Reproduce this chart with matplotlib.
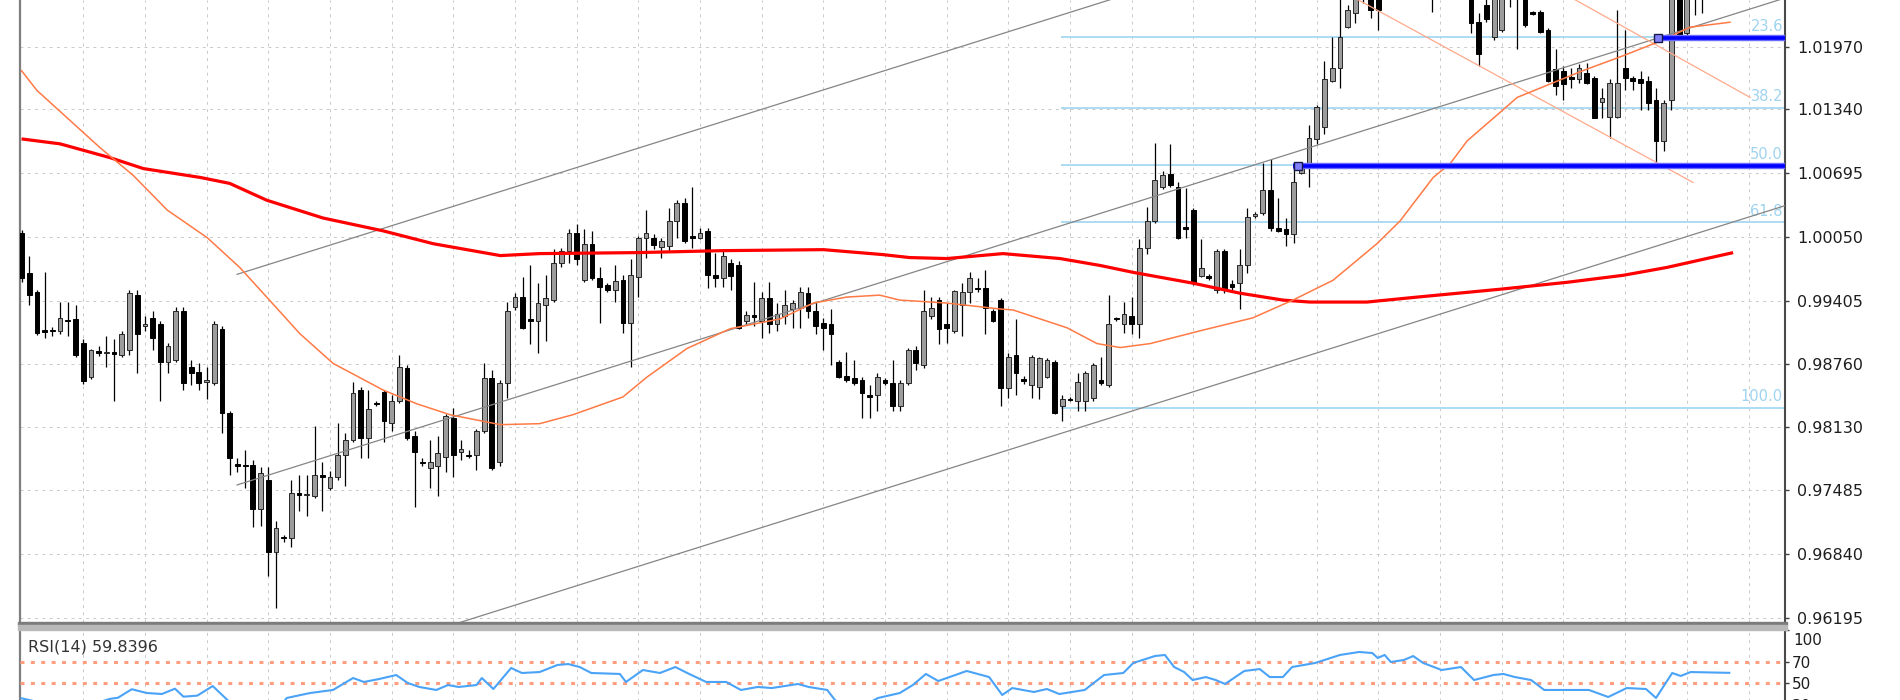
import numpy as np
import matplotlib
matplotlib.use('Agg')
import matplotlib.pyplot as plt
from matplotlib.patches import Rectangle

plt.rcParams['font.family'] = ['DejaVu Sans']

# ---------------- data ----------------
open_ = [1.0009,0.9968,0.9949,0.9911,0.9911,0.9910,0.9921,0.9922,0.9898,0.9863,
0.9889,0.9887,0.9888,0.9885,0.9890,0.9946,0.9915,0.9923,0.9917,0.9878,
0.9880,0.9930,0.9873,0.9868,0.9858,0.9857,0.9912,0.9827,0.9775,0.9774,
0.9774,0.9730,0.9759,0.9686,0.9701,0.9700,0.9746,0.9744,0.9743,0.9764,
0.9751,0.9762,0.9784,0.9799,0.9850,0.9802,0.9837,0.9848,0.9817,0.9839,
0.9872,0.9804,0.9777,0.9771,0.9773,0.9782,0.9822,0.9787,0.9784,0.9784,
0.9809,0.9862,0.9777,0.9857,0.9934,0.9944,0.9922,0.9920,0.9936,0.9941,
0.9978,0.9991,1.0009,0.9961,0.9998,0.9963,0.9956,0.9951,0.9961,0.9918,
0.9964,1.0004,1.0004,0.9995,0.9996,1.0021,1.0039,1.0006,1.0004,1.0011,
0.9966,0.9963,0.9979,0.9976,0.9920,0.9926,0.9920,0.9943,0.9917,0.9925,
0.9932,0.9933,0.9948,0.9930,0.9918,0.9917,0.9878,0.9864,0.9862,0.9860,
0.9845,0.9845,0.9860,0.9857,0.9834,0.9857,0.9890,0.9875,0.9925,0.9941,
0.9917,0.9910,0.9936,0.9949,0.9953,0.9953,0.9930,0.9941,0.9852,0.9885,
0.9861,0.9855,0.9853,0.9863,0.9878,0.9834,0.9841,0.9839,0.9839,0.9842,
0.9860,0.9855,0.9923,0.9917,0.9925,0.9917,0.9994,1.0021,1.0055,1.0069,
1.0055,1.0015,1.0032,0.9965,0.9965,0.9951,0.9991,0.9957,0.9958,0.9976,
1.0026,1.0029,1.0052,1.0014,1.0013,1.0008,1.0070,1.0077,1.0104,1.0116,
1.0163,1.0176,1.0217,1.0231,1.0249,1.0259,1.0254,1.0264,1.0274,1.0269,
1.0279,1.0274,1.0264,1.0259,1.0249,1.0269,1.0259,1.0269,1.0254,1.0222,
1.0239,1.0207,1.0214,1.0249,1.0254,1.0254,1.0232,1.0232,1.0214,1.0175,
1.0173,1.0167,1.0165,1.0171,1.0166,1.0141,1.0126,1.0126,1.0176,1.0166,
1.0165,1.0163,1.0143,1.0102,1.0143,1.0249,1.0211,1.0249,1.0252]

high = [1.0012,0.9986,0.9951,0.9969,0.9914,0.9939,0.9939,0.9936,0.9902,0.9892,
0.9895,0.9905,0.9902,0.9910,0.9951,0.9951,0.9925,0.9930,0.9920,0.9898,
0.9934,0.9934,0.9880,0.9877,0.9873,0.9920,0.9915,0.9829,0.9781,0.9789,
0.9779,0.9772,0.9772,0.9718,0.9703,0.9759,0.9764,0.9764,0.9814,0.9777,
0.9768,0.9817,0.9807,0.9858,0.9853,0.9850,0.9839,0.9850,0.9845,0.9885,
0.9875,0.9809,0.9781,0.9799,0.9804,0.9826,0.9832,0.9799,0.9789,0.9811,
0.9877,0.9870,0.9860,0.9939,0.9948,0.9964,0.9976,0.9958,0.9966,0.9993,
0.9994,1.0013,1.0018,1.0013,1.0011,0.9974,0.9958,0.9976,0.9966,0.9983,
1.0006,1.0032,1.0008,1.0004,1.0034,1.0042,1.0044,1.0055,1.0014,1.0014,
0.9989,0.9991,0.9983,0.9981,0.9930,0.9959,0.9949,0.9959,0.9938,0.9951,
0.9941,0.9954,0.9954,0.9939,0.9923,0.9932,0.9880,0.9888,0.9880,0.9863,
0.9855,0.9867,0.9862,0.9880,0.9860,0.9893,0.9895,0.9951,0.9944,0.9944,
0.9938,0.9951,0.9958,0.9969,0.9963,0.9971,0.9932,0.9943,0.9887,0.9922,
0.9864,0.9885,0.9883,0.9882,0.9880,0.9845,0.9843,0.9867,0.9869,0.9877,
0.9883,0.9946,0.9924,0.9939,0.9944,1.0003,1.0035,1.0100,1.0072,1.0099,
1.0060,1.0054,1.0034,1.0003,0.9967,0.9993,0.9993,0.9961,0.9993,1.0034,
1.0030,1.0080,1.0084,1.0044,1.0024,1.0080,1.0080,1.0118,1.0138,1.0183,
1.0207,1.0249,1.0239,1.0254,1.0279,1.0264,1.0264,1.0284,1.0289,1.0284,
1.0294,1.0289,1.0279,1.0274,1.0274,1.0284,1.0279,1.0279,1.0264,1.0231,
1.0249,1.0259,1.0259,1.0269,1.0274,1.0264,1.0233,1.0234,1.0216,1.0195,
1.0178,1.0176,1.0180,1.0181,1.0168,1.0155,1.0165,1.0234,1.0214,1.0168,
1.0173,1.0168,1.0156,1.0143,1.0254,1.0254,1.0254,1.0264,1.0264]

low = [0.9959,0.9936,0.9906,0.9903,0.9905,0.9907,0.9905,0.9883,0.9856,0.9861,
0.9884,0.9873,0.9839,0.9883,0.9885,0.9867,0.9910,0.9890,0.9839,0.9867,
0.9878,0.9850,0.9855,0.9850,0.9841,0.9855,0.9807,0.9764,0.9767,0.9751,
0.9711,0.9713,0.9662,0.9630,0.9696,0.9691,0.9728,0.9723,0.9741,0.9728,
0.9749,0.9759,0.9753,0.9797,0.9781,0.9781,0.9834,0.9797,0.9809,0.9837,
0.9799,0.9732,0.9773,0.9751,0.9743,0.9767,0.9762,0.9779,0.9781,0.9769,
0.9807,0.9769,0.9773,0.9842,0.9931,0.9912,0.9897,0.9887,0.9900,0.9939,
0.9974,0.9978,0.9976,0.9959,0.9961,0.9918,0.9949,0.9939,0.9908,0.9873,
0.9944,0.9984,0.9993,0.9984,0.9991,1.0004,0.9999,0.9994,1.0003,0.9953,
0.9954,0.9954,0.9951,0.9912,0.9917,0.9915,0.9903,0.9908,0.9910,0.9917,
0.9913,0.9913,0.9923,0.9907,0.9890,0.9875,0.9862,0.9858,0.9855,0.9822,
0.9822,0.9829,0.9855,0.9829,0.9829,0.9855,0.9870,0.9872,0.9922,0.9897,
0.9898,0.9908,0.9905,0.9938,0.9949,0.9907,0.9919,0.9834,0.9842,0.9845,
0.9856,0.9842,0.9841,0.9862,0.9826,0.9819,0.9839,0.9829,0.9829,0.9839,
0.9855,0.9853,0.9920,0.9908,0.9907,0.9903,0.9988,1.0019,1.0053,1.0055,
1.0003,1.0004,0.9956,0.9964,0.9961,0.9948,0.9948,0.9951,0.9932,0.9968,
1.0024,1.0027,1.0011,1.0010,0.9996,0.9999,1.0069,1.0055,1.0099,1.0109,
1.0162,1.0156,1.0216,1.0221,1.0241,1.0226,1.0214,1.0249,1.0256,1.0254,
1.0264,1.0259,1.0249,1.0232,1.0246,1.0252,1.0247,1.0249,1.0211,1.0178,
1.0222,1.0204,1.0212,1.0237,1.0195,1.0217,1.0229,1.0211,1.0162,1.0148,
1.0143,1.0155,1.0161,1.0160,1.0125,1.0125,1.0105,1.0125,1.0153,1.0153,
1.0133,1.0133,1.0079,1.0092,1.0133,1.0207,1.0209,1.0229,1.0231]

close = [0.9963,0.9946,0.9908,0.9909,0.9910,0.9923,0.9920,0.9885,0.9859,0.9890,
0.9887,0.9888,0.9886,0.9907,0.9948,0.9907,0.9917,0.9903,0.9878,0.9895,
0.9930,0.9857,0.9867,0.9857,0.9860,0.9917,0.9827,0.9781,0.9773,0.9773,
0.9730,0.9766,0.9686,0.9710,0.9700,0.9746,0.9744,0.9745,0.9764,0.9762,
0.9762,0.9784,0.9799,0.9847,0.9801,0.9831,0.9836,0.9819,0.9839,0.9873,
0.9801,0.9787,0.9776,0.9777,0.9786,0.9824,0.9784,0.9790,0.9783,0.9809,
0.9862,0.9771,0.9857,0.9930,0.9944,0.9913,0.9920,0.9938,0.9943,0.9979,
0.9991,1.0009,0.9983,0.9998,0.9963,0.9954,0.9951,0.9960,0.9918,0.9966,
1.0004,1.0009,0.9997,1.0001,1.0021,1.0039,1.0001,1.0004,1.0009,0.9966,
0.9963,0.9986,0.9965,0.9913,0.9926,0.9924,0.9943,0.9917,0.9927,0.9936,
0.9938,0.9949,0.9930,0.9915,0.9913,0.9907,0.9863,0.9860,0.9857,0.9847,
0.9843,0.9863,0.9857,0.9834,0.9857,0.9890,0.9877,0.9930,0.9933,0.9912,
0.9913,0.9950,0.9949,0.9963,0.9952,0.9933,0.9920,0.9852,0.9883,0.9867,
0.9859,0.9883,0.9882,0.9880,0.9827,0.9841,0.9840,0.9858,0.9867,0.9875,
0.9857,0.9917,0.9922,0.9927,0.9917,0.9994,1.0021,1.0062,1.0067,1.0057,
1.0004,1.0013,0.9958,0.9973,0.9963,0.9991,0.9951,0.9954,0.9976,1.0025,
1.0028,1.0052,1.0014,1.0011,1.0008,1.0060,1.0076,1.0105,1.0136,1.0165,
1.0176,1.0207,1.0234,1.0249,1.0269,1.0234,1.0234,1.0274,1.0269,1.0279,
1.0274,1.0264,1.0259,1.0249,1.0269,1.0259,1.0269,1.0254,1.0221,1.0190,
1.0225,1.0249,1.0249,1.0259,1.0264,1.0219,1.0230,1.0212,1.0163,1.0158,
1.0160,1.0165,1.0176,1.0161,1.0125,1.0145,1.0161,1.0161,1.0166,1.0163,
1.0161,1.0140,1.0102,1.0140,1.0247,1.0209,1.0249,1.0256,1.0259]

# moving averages (bar position, value)
ma_slow_pos = [0,5,11.5,15.8,23.2,27,31.8,39.1,46.9,53.4,62.1,67.2,79.8,91,104,111.7,115.2,
               120,127.3,134.7,139.9,144.2,152,158,163.6,167.1,174.5,181,191.8,200.5,207.7,213.4,222]
ma_slow_val = [1.0104,1.0099,1.0085,1.0074,1.0065,1.0059,1.0042,1.0024,1.0011,0.9998,0.9986,0.9988,
               0.9989,0.9991,0.9992,0.9987,0.9984,0.9983,0.9988,0.9983,0.9976,0.9969,0.9958,0.9948,
               0.9941,0.9939,0.9939,0.9944,0.9952,0.9959,0.9966,0.9974,0.9989]

ma_fast_pos = [0,2,10.2,14.5,18.9,24.1,28.3,31.8,36.1,40.4,46.9,51.3,55.6,62.1,67.2,71.5,78,81.1,
               86.3,91.9,98.4,102.7,107,111.3,113.9,120,126.9,128.6,135.6,139.5,142.5,146.4,152.9,
               159.7,164.9,170.1,175.8,178.8,183.1,185.3,187.5,191.8,194,202.5,207.7,212.9,216.4,221.6]
ma_fast_val = [1.0173,1.0153,1.0095,1.0067,1.0032,1.0004,0.9974,0.9944,0.9907,0.9877,0.9850,0.9836,
               0.9825,0.9815,0.9816,0.9825,0.9843,0.9863,0.9892,0.9912,0.9922,0.9938,0.9944,0.9946,
               0.9941,0.9938,0.9932,0.9931,0.9913,0.9897,0.9893,0.9897,0.9910,0.9923,0.9941,0.9961,
               0.9998,1.0021,1.0065,1.0079,1.0102,1.0131,1.0146,1.0173,1.0188,1.0204,1.0217,1.0222]

# RSI(14)
rsi_pos = [0,3,6,9,11.5,12.5,14.3,16.2,18.2,19.9,
           21,22.8,24.8,26.7,28.5,30.5,32.5,33.5,34.4,37.4,
           40.4,43,44.4,46.4,48.6,50.1,51.6,53.8,55.3,56.7,
           59,59.7,61.2,63.5,64.9,67.2,69.5,70.9,72.4,73.9,
           77.6,78.4,80.6,82.8,84.8,86.6,88.8,91.4,93.3,95.5,
           97.3,100.7,102.1,104.5,105.5,107.5,109.5,111.1,113.9,115.6,
           117.3,118.9,122.6,125.5,127.2,128.5,131.3,133,134.6,137.9,
           140.4,142.9,144.2,147,148.3,149.5,150.8,151.9,153.6,154.9,
           156.1,158.6,160.6,161.9,163.6,164.8,167.8,171,173.5,175.2,
           175.9,176.8,177.6,179.3,180.5,181.8,184.2,186.7,188.4,190.9,
           192.2,193.7,195.8,197.5,203.3,205.8,208.2,210.7,212,214.1,
           215.2,216.5,221.5]
rsi_val = [36,31,32,30,35.5,36.5,44.5,41,40,45,
           37.5,38.5,47.5,34.4,26,22,20,28,36.3,40.9,
           43.8,55,51.3,54.1,57.8,50.3,46.6,43.8,48.4,46.6,
           48.4,55,44.7,64.4,59.7,60.6,67.2,68.1,65.3,59.7,
           58.8,51.3,62.5,59.7,65.3,58.8,51.3,51.3,43.8,46.6,
           45.6,49.4,46.6,43.8,34.4,25,30,36.3,40.9,48.4,
           58.8,52.2,61.6,55.9,39.1,45.6,41.9,44.7,40,43.8,
           57.8,59.7,69.1,75.6,76.6,65.3,60.6,53.1,55.9,53.1,
           49.4,61.6,63.4,55.9,55.9,65.3,69.1,76.6,79.4,78.4,
           73.8,76.6,70,71.9,75.6,69.1,62.5,65.3,53.1,57.8,
           58.8,55.9,53.1,43.8,43.8,37.2,45.6,44.7,36.3,59.7,
           56.9,60.6,59.84]
rsi_label = "RSI(14) 59.8396"
rsi_levels = [70, 50, 30]
rsi_ticks = [100, 70, 50, 30]

price_ticks = [1.01970, 1.01340, 1.00695, 1.00050, 0.99405,
               0.98760, 0.98130, 0.97485, 0.96840, 0.96195]

# drawn objects: channel (gray), descending channel (salmon), fibo, horizontal lines
channel_upper = [(27.95, 0.9967), (228.73, 1.04595)]
channel_mid = [(27.95, 0.9754), (228.73, 1.02465)]
channel_low = [(27.95, 0.9544), (228.73, 1.00365)]
down_low = [(170.0, 1.0259), (216.8, 1.0060)]
down_up = [(198.0, 1.0260), (224.2, 1.0146)]
fib_start = 134.8
fib_0 = 1.03228
fib_100 = 0.98320
fib_ratios = [23.6, 38.2, 50.0, 61.8, 100.0]
hline_levels = [1.0077, 1.0206]
hline_starts = [164.9, 211.7]

# ---------------- figure ----------------
W, H = 1900, 700
fig = plt.figure(figsize=(19, 7), dpi=100)
fig.patch.set_facecolor('white')

def fx(px):
    return px / W

def fy(py):
    return 1 - py / H

L_PX, R_PX = 20, 1785
MAIN_BOT = 622
RSI_TOP, RSI_BOT = 630, 736.7
XMIN, XMAX = -0.2, 228.73
YMIN, YMAX = 0.96154, 1.02445

ax = fig.add_axes([fx(L_PX), fy(MAIN_BOT), fx(R_PX - L_PX), MAIN_BOT / H])
ax2 = fig.add_axes([fx(L_PX), fy(RSI_BOT), fx(R_PX - L_PX), (RSI_BOT - RSI_TOP) / H])

grid_kw = dict(color='#c9c9c9', linestyle=(0, (3, 4.5)), linewidth=0.7)

for a in (ax, ax2):
    a.set_facecolor('white')
    a.set_xlim(XMIN, XMAX)
    a.set_xticks(np.arange(8, 229, 8))
    a.tick_params(axis='x', length=0, labelbottom=False)
    a.xaxis.grid(True, **grid_kw)
    a.set_axisbelow(True)
    a.spines['top'].set_visible(False)
    a.spines['bottom'].set_visible(False)
    a.spines['left'].set_color('#7f7f7f')
    a.spines['left'].set_linewidth(1.6)
    a.spines['right'].set_color('#4a4a4a')
    a.spines['right'].set_linewidth(1.5)

# main price panel
ax.set_ylim(YMIN, YMAX)
ax.yaxis.tick_right()
ax.set_yticks(price_ticks)
ax.set_yticklabels([f'{v:.5f}' for v in price_ticks])
ax.tick_params(axis='y', direction='out', length=3, width=1, color='#404040',
               pad=6, labelsize=11.5, labelcolor='#1e1e1e')
ax.yaxis.grid(True, **grid_kw)

# fibonacci levels
fib_levels = [fib_0 - r / 100.0 * (fib_0 - fib_100) for r in fib_ratios]
ax.hlines(fib_levels, fib_start, XMAX, color='#a6d9f2', lw=1.3, zorder=2)
for r, lv in zip(fib_ratios, fib_levels):
    ax.annotate(f'{r:.1f}', xy=(228.47, lv), xytext=(0, 2.5), textcoords='offset points',
                ha='right', va='bottom', fontsize=10.5, color='#9fd3ef', zorder=3)

# candles
o = np.array(open_); h = np.array(high); l = np.array(low); c = np.array(close)
idx = np.arange(len(o))
hi = np.maximum(h, np.maximum(o, c))
lo = np.minimum(l, np.minimum(o, c))
ax.vlines(idx, lo, hi, color='black', lw=0.9, zorder=4)
up = c >= o
bot = np.minimum(o, c)
hgt = np.maximum(np.abs(c - o), 0.00004)
ax.bar(idx[up], hgt[up], bottom=bot[up], width=0.62, color='#9c9c9c',
       edgecolor='#262626', linewidth=0.7, zorder=5)
ax.bar(idx[~up], hgt[~up], bottom=bot[~up], width=0.62, color='black',
       edgecolor='black', linewidth=0.7, zorder=5)

# channel lines
for ln in (channel_upper, channel_mid, channel_low):
    ax.plot([ln[0][0], ln[1][0]], [ln[0][1], ln[1][1]], color='#858585', lw=0.9, zorder=6)
for ln in (down_low, down_up):
    ax.plot([ln[0][0], ln[1][0]], [ln[0][1], ln[1][1]], color='#ffa98a', lw=0.9, zorder=6)

# moving averages
ax.plot(ma_slow_pos, ma_slow_val, color='#ff0000', lw=2.3, zorder=7, solid_capstyle='butt')
ax.plot(ma_fast_pos, ma_fast_val, color='#ff7a45', lw=1.1, zorder=7)

# horizontal blue lines
for lv, st in zip(hline_levels, hline_starts):
    ax.hlines(lv, st, XMAX, color='#6b6bff', lw=4.6, zorder=8)
    ax.hlines(lv, st, XMAX, color='#0000ff', lw=2.6, zorder=8)
    ax.plot([st + 0.6], [lv], marker='s', ms=6, mfc='#8080ff', mec='#1a1a4a', mew=1, zorder=9)

# RSI panel
ax2.set_ylim(0, 100)
ax2.plot(rsi_pos, rsi_val, color='#4aa3f7', lw=1.5, zorder=5)
for lv in rsi_levels:
    ax2.axhline(lv, color='#ff9f80', lw=2.2, linestyle=(0, (1.3, 2.1)), zorder=3)
ax2.yaxis.tick_right()
ax2.set_yticks(rsi_ticks)
ax2.set_yticklabels(['', '70', '50', '30'])
ax2.tick_params(axis='y', direction='out', length=3, width=1, color='#404040',
                pad=2, labelsize=11, labelcolor='#1e1e1e')
ax2.text(1.0 + 8 / (R_PX - L_PX), 97, '100', transform=ax2.get_yaxis_transform(),
         ha='left', va='top', fontsize=11, color='#1e1e1e')
fig.text(fx(28), fy(647), rsi_label, ha='left', va='center', fontsize=11.5, color='#333333')

# separator between panels
fig.add_artist(Rectangle((fx(18), fy(625)), fx(1769), 3 / H, transform=fig.transFigure,
                         color='#7c7c7c', zorder=10))
fig.add_artist(Rectangle((fx(18), fy(630)), fx(1769), 5 / H, transform=fig.transFigure,
                         color='#b9b9b9', zorder=10))

fig.savefig('out.png', dpi=100, facecolor='white')
